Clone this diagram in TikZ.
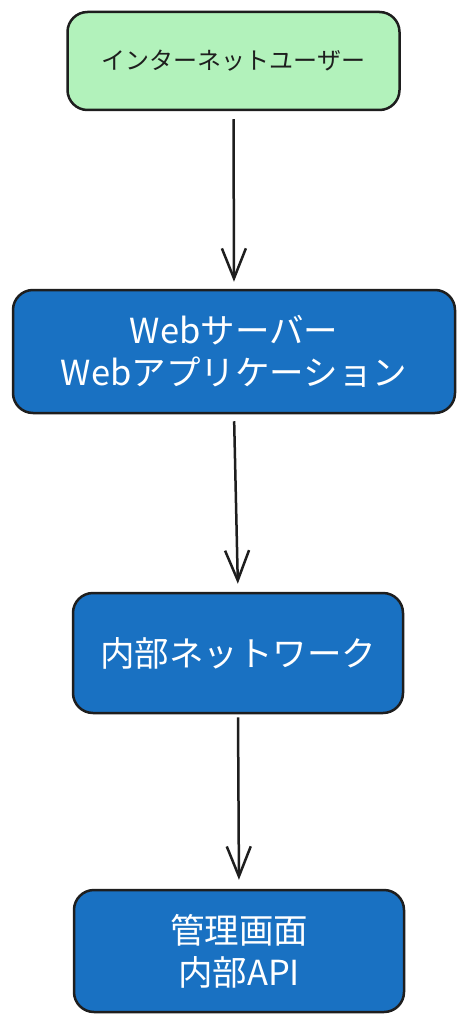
\documentclass[tikz,border=0pt]{standalone}
\usepackage{fontspec}
\setmainfont{Noto Sans CJK JP}
\usetikzlibrary{arrows.meta}
\definecolor{boxgreen}{HTML}{B2F2BB}
\definecolor{boxblue}{HTML}{1971C2}
\definecolor{inkline}{HTML}{1E1E1E}
\tikzset{
  box/.style={draw=inkline, line width=2.5pt, rounded corners=20pt, align=center, inner sep=0pt},
  greenbox/.style={box, fill=boxgreen, text=inkline, font=\fontsize{24}{30}\selectfont},
  bluebox/.style={box, fill=boxblue, text=white, font=\fontsize{34.5}{42}\selectfont},
  link/.style={draw=inkline, line width=2.5pt, -{Straight Barb[length=30pt,width=24pt,line width=2.5pt]}}
}
\begin{document}
\begin{tikzpicture}[x=1pt,y=-1pt]
\useasboundingbox (0,0) rectangle (467,1024);
\fill[white] (0,0) rectangle (467,1024);
\node[greenbox, minimum width=332pt, minimum height=98pt] (n1) at (233.5,61) {インターネットユーザー};
\node[bluebox, minimum width=442pt, minimum height=123pt] (n2) at (234,351.5) {Webサーバー\\Webアプリケーション};
\node[bluebox, minimum width=330pt, minimum height=120pt] (n3) at (238,653) {内部ネットワーク};
\node[bluebox, minimum width=330pt, minimum height=122pt] (n4) at (239,951) {管理画面\\内部API};
\draw[link, shorten <=8pt, shorten >=7pt] (n1.south) -- (n2.north);
\draw[link, shorten <=7pt, shorten >=8pt] (n2.south) -- (n3.north);
\draw[link, shorten <=3pt, shorten >=9pt] (n3.south) -- (n4.north);
\end{tikzpicture}
\end{document}
